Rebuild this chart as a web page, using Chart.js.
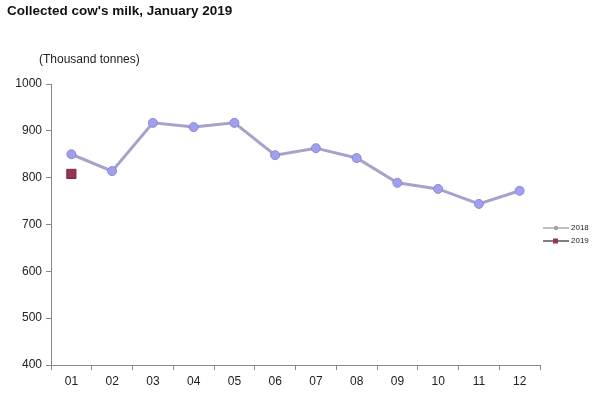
<!DOCTYPE html>
<html>
<head>
<meta charset="utf-8">
<script src="https://cdn.jsdelivr.net/npm/chart.js@4"></script>
<style>
  body { margin: 0; background: #fff; }
  #wrap { position: relative; width: 600px; height: 396px; }
  #title { position: absolute; left: 7px; top: 3px; font: bold 13.5px "Liberation Sans", Arial, sans-serif; color: #111; }
  #unit { position: absolute; left: 39px; top: 52px; font: 12px "Liberation Sans", Arial, sans-serif; color: #222; }
</style>
</head>
<body>
<div id="wrap">
  <canvas id="chart" width="600" height="396"></canvas>
  <div id="title">Collected cow's milk, January 2019</div>
  <div id="unit">(Thousand tonnes)</div>
</div>
<script>
const months = ["01", "02", "03", "04", "05", "06", "07", "08", "09", "10", "11", "12"];
const milk2018 = [850, 814, 917, 908, 917, 848, 863, 842, 789, 776, 744, 772];
const milk2019 = [808, null, null, null, null, null, null, null, null, null, null, null];

// small legend drawn at the right, like the original
const sideLegend = {
  id: "sideLegend",
  afterDraw(chart) {
    const ctx = chart.ctx;
    const sets = chart.data.datasets;
    const items = [
      { label: sets[0].label, line: "#a8a8b0", fill: "#a0a0a8", rect: false },
      { label: sets[1].label, line: "#555560", fill: "#993355", rect: true },
    ];
    ctx.save();
    ctx.font = "8px 'Liberation Sans', Arial, sans-serif";
    ctx.textBaseline = "middle";
    items.forEach((it, i) => {
      const y = 228 + i * 13;
      ctx.strokeStyle = it.line;
      ctx.lineWidth = 1.5;
      ctx.beginPath();
      ctx.moveTo(543, y);
      ctx.lineTo(569, y);
      ctx.stroke();
      ctx.fillStyle = it.fill;
      if (it.rect) {
        ctx.fillRect(553, y - 2.5, 5, 5);
      } else {
        ctx.beginPath();
        ctx.arc(556, y, 2.2, 0, Math.PI * 2);
        ctx.fill();
      }
      ctx.fillStyle = "#222";
      ctx.fillText(it.label, 571, y);
    });
    ctx.restore();
  },
};

new Chart(document.getElementById("chart"), {
  type: "line",
  data: {
    labels: months,
    datasets: [
      {
        label: "2018",
        data: milk2018,
        borderColor: "#a6a2cc",
        borderWidth: 3,
        pointRadius: 4.5,
        pointBackgroundColor: "#a0a0ec",
        pointBorderColor: "#8a88d8",
        pointBorderWidth: 1,
        tension: 0,
      },
      {
        label: "2019",
        data: milk2019,
        borderColor: "#555560",
        pointStyle: "rect",
        pointRadius: 6.5,
        pointBackgroundColor: "#993355",
        pointBorderColor: "#7a2a44",
        pointBorderWidth: 1,
      },
    ],
  },
  options: {
    responsive: false,
    animation: false,
    layout: {
      padding: { top: 84, right: 60, left: 0, bottom: 0 },
    },
    plugins: {
      legend: { display: false },
      tooltip: { enabled: false },
    },
    scales: {
      x: {
        offset: true,
        afterFit(scale) { scale.height = 31; },
        grid: {
          offset: true,
          drawOnChartArea: false,
          color: "#888",
          tickLength: 5,
        },
        border: { color: "#888" },
        ticks: {
          color: "#222",
          padding: 4,
          font: { family: "'Liberation Sans', Arial, sans-serif", size: 12 },
        },
      },
      y: {
        min: 400,
        max: 1000,
        afterFit(scale) { scale.width = 51; },
        grid: {
          drawOnChartArea: false,
          color: "#888",
          tickLength: 5,
        },
        border: { color: "#888" },
        ticks: {
          stepSize: 100,
          color: "#222",
          padding: 4,
          callback: (v) => String(v),
          font: { family: "'Liberation Sans', Arial, sans-serif", size: 12 },
        },
      },
    },
  },
  plugins: [sideLegend],
});
</script>
</body>
</html>
